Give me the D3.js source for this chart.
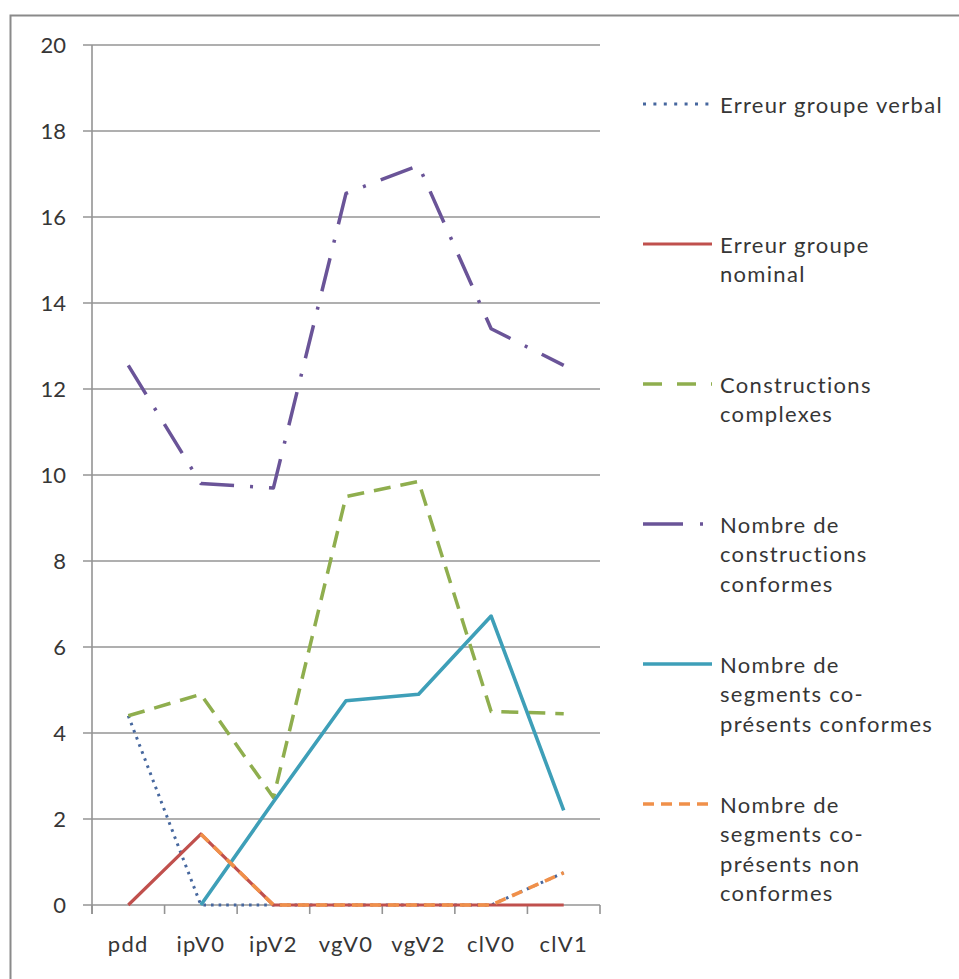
<!DOCTYPE html>
<html>
<head>
<meta charset="utf-8">
<script src="https://cdn.jsdelivr.net/npm/d3@7"></script>
<style>
  html, body { margin: 0; padding: 0; background: #fff; }
  svg text { font-family: Lato, "Open Sans", sans-serif; fill: #363636; }
</style>
</head>
<body>
<svg id="chart" width="959" height="979"></svg>
<script>
const categories = ["pdd", "ipV0", "ipV2", "vgV0", "vgV2", "clV0", "clV1"];
const yTicks = [0, 2, 4, 6, 8, 10, 12, 14, 16, 18, 20];

const erreurGroupeVerbal     = [4.4, 0, 0, 0, 0, 0, 0.75];
const erreurGroupeNominal    = [0, 1.65, 0, 0, 0, 0, 0];
const constructionsComplexes = [4.4, 4.9, 2.5, 9.5, 9.85, 4.5, 4.45];
const constructionsConformes = [12.55, 9.8, 9.7, 16.55, 17.2, 13.4, 12.55];
const segmentsConformes      = [null, 0, 2.4, 4.75, 4.9, 6.72, 2.2];
const segmentsNonConformes   = [null, 1.65, 0, 0, 0, 0, 0.75];

const seriesNames = [
  ["Erreur groupe verbal"],
  ["Erreur groupe", "nominal"],
  ["Constructions", "complexes"],
  ["Nombre de", "constructions", "conformes"],
  ["Nombre de", "segments co-", "présents conformes"],
  ["Nombre de", "segments co-", "présents non", "conformes"]
];

const series = [
  { values: erreurGroupeVerbal,     color: "#46679E", width: 3,   dash: "2.6,5", legendDash: "3,7.4" },
  { values: erreurGroupeNominal,    color: "#C0504D", width: 3.2, dash: null },
  { values: constructionsComplexes, color: "#8FAE4E", width: 3.5, dash: "17,10", legendDash: "19,15" },
  { values: constructionsConformes, color: "#6A5498", width: 3.5, dash: "34,16,3,16", legendDash: "40,17,3,17" },
  { values: segmentsConformes,      color: "#3E9FB8", width: 3.6, dash: null },
  { values: segmentsNonConformes,   color: "#F0904A", width: 3.6, dash: "11,7", legendDash: "11,7" }
];

const svg = d3.select("#chart");

// outer chart border (only top/left visible in frame)
svg.append("rect")
  .attr("x", 10.5).attr("y", 15.5)
  .attr("width", 1000).attr("height", 1000)
  .attr("fill", "#fff")
  .attr("stroke", "#8a8a8a").attr("stroke-width", 2);

const x = d3.scaleBand().domain(categories).range([92, 600]);
const y = d3.scaleLinear().domain([0, 20]).range([905, 45]);

// gridlines
svg.append("g").selectAll("line").data(yTicks).join("line")
  .attr("x1", 83).attr("x2", 600)
  .attr("y1", d => y(d)).attr("y2", d => y(d))
  .attr("stroke", "#949494").attr("stroke-width", 1.6);

// y axis line
svg.append("line")
  .attr("x1", 92).attr("x2", 92)
  .attr("y1", y(20)).attr("y2", y(0) + 9)
  .attr("stroke", "#949494").attr("stroke-width", 1.6);

// x axis ticks at band boundaries
const boundaries = categories.map(c => x(c)).concat([x.range()[1]]);
svg.append("g").selectAll("line").data(boundaries).join("line")
  .attr("x1", d => d).attr("x2", d => d)
  .attr("y1", y(0)).attr("y2", y(0) + 9)
  .attr("stroke", "#949494").attr("stroke-width", 1.6);

// y tick labels
svg.append("g").selectAll("text").data(yTicks).join("text")
  .attr("x", 66).attr("y", d => y(d))
  .attr("dy", "0.35em")
  .attr("text-anchor", "end")
  .attr("font-size", 22)
  .text(d => d);

// x tick labels
svg.append("g").selectAll("text").data(categories).join("text")
  .attr("x", d => x(d) + x.bandwidth() / 2).attr("y", 952)
  .attr("text-anchor", "middle")
  .attr("font-size", 22)
  .attr("letter-spacing", 1.3)
  .text(d => d);

// lines
series.forEach(s => {
  const line = d3.line()
    .defined(d => d != null)
    .x((d, i) => x(categories[i]) + x.bandwidth() / 2)
    .y(d => y(d));
  svg.append("path")
    .datum(s.values)
    .attr("d", line)
    .attr("fill", "none")
    .attr("stroke", s.color)
    .attr("stroke-width", s.width)
    .attr("stroke-linejoin", "round")
    .attr("stroke-dasharray", s.dash);
});

// legend
const legendFirstBaseline = 113, legendStep = 140, lineHeight = 29.3;
series.forEach((s, i) => {
  const b = legendFirstBaseline + i * legendStep;
  svg.append("line")
    .attr("x1", 643).attr("x2", 712)
    .attr("y1", b - 9).attr("y2", b - 9)
    .attr("stroke", s.color)
    .attr("stroke-width", s.width)
    .attr("stroke-dasharray", s.legendDash || null);
  const t = svg.append("text")
    .attr("x", 720).attr("y", b)
    .attr("font-size", 22)
    .attr("letter-spacing", 1.3);
  seriesNames[i].forEach((ln, j) => {
    t.append("tspan").attr("x", 720).attr("y", b + j * lineHeight).text(ln);
  });
});
</script>
</body>
</html>
